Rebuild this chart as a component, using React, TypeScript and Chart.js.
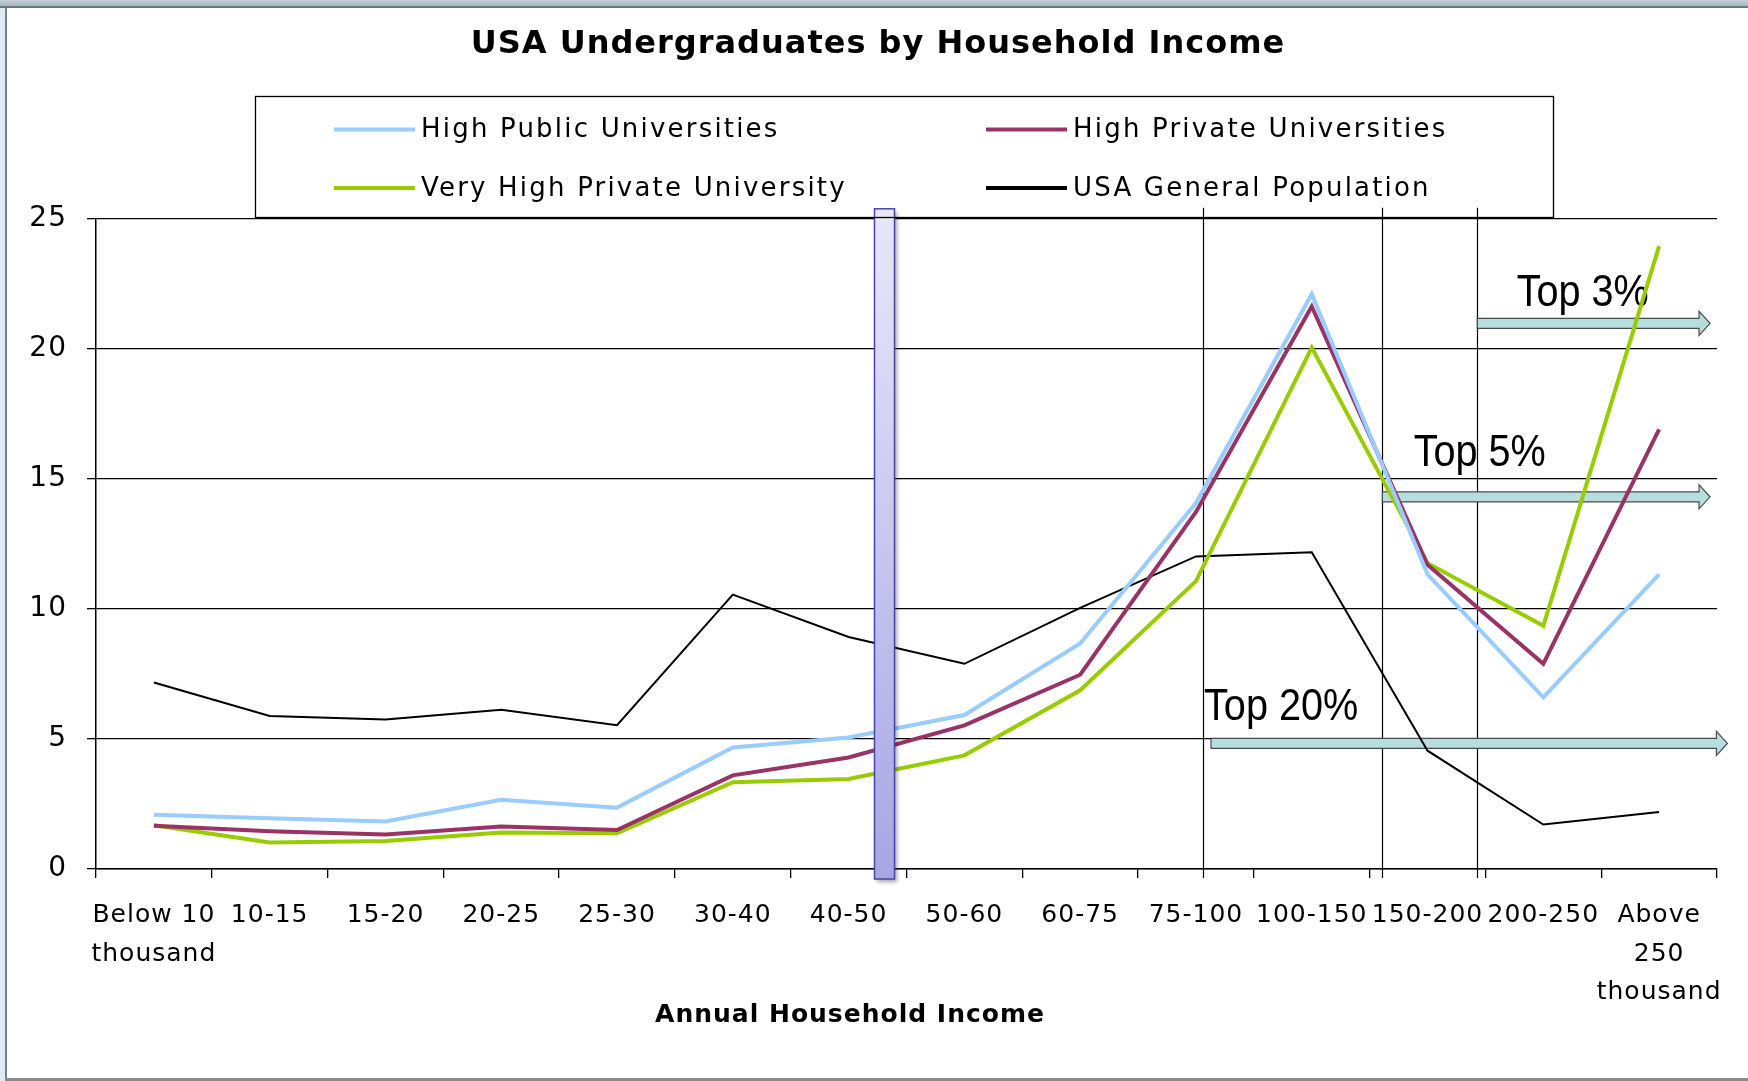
import React, { useEffect, useRef } from "react";
import { Chart, registerables } from "chart.js";

Chart.register(...registerables);

// ---- data ----
const categories: (string | string[])[] = [
  ["Below 10", "thousand"],
  "10-15",
  "15-20",
  "20-25",
  "25-30",
  "30-40",
  "40-50",
  "50-60",
  "60-75",
  "75-100",
  "100-150",
  "150-200",
  "200-250",
  ["Above", "250", "thousand"],
];
const seriesNames = [
  "High Public Universities",
  "High Private Universities",
  "Very High Private University",
  "USA General Population",
];
const highPublic = [2.09, 1.95, 1.83, 2.66, 2.36, 4.67, 5.06, 5.92, 8.67, 14.07, 22.1, 11.33, 6.6, 11.33];
const highPrivate = [1.66, 1.45, 1.33, 1.63, 1.5, 3.6, 4.29, 5.52, 7.47, 13.73, 21.63, 11.7, 7.89, 16.9];
const veryHighPrivate = [1.68, 1.02, 1.08, 1.4, 1.37, 3.34, 3.46, 4.37, 6.87, 11.07, 20.05, 11.76, 9.35, 23.95];
const generalPopulation = [7.17, 5.88, 5.75, 6.12, 5.53, 10.55, 8.92, 7.89, 10.04, 12.02, 12.18, 4.55, 1.71, 2.19];
const yTicks = [0, 5, 10, 15, 20, 25];

const titleText = "USA Undergraduates by Household Income";
const xAxisTitle = "Annual Household Income";

// annotations (in category-index / value units)
const dividerIndexes = [9.06, 10.61, 11.43];
const markerIndex = 6.31;
const topLabels = ["Top 20%", "Top 5%", "Top 3%"];
const arrowStart = [9.13, 10.61, 11.43];
const arrowEnd = [13.59, 13.44, 13.44];
const arrowLevel = [4.83, 14.31, 20.98];
const labelIndex = [9.07, 10.88, 11.77];
const labelLevel = [5.71, 15.48, 21.63];

const seriesColors = ["#99ccff", "#993366", "#99cc00", "#000000"];
const seriesWidths = [4, 4, 4, 2];

function drawArrow(ctx: CanvasRenderingContext2D, x0: number, x1: number, y: number) {
  const shaft = 10;
  const head = 24;
  const headL = 11;
  ctx.beginPath();
  ctx.moveTo(x0, y - shaft / 2);
  ctx.lineTo(x1 - headL, y - shaft / 2);
  ctx.lineTo(x1 - headL, y - head / 2);
  ctx.lineTo(x1, y);
  ctx.lineTo(x1 - headL, y + head / 2);
  ctx.lineTo(x1 - headL, y + shaft / 2);
  ctx.lineTo(x0, y + shaft / 2);
  ctx.closePath();
  ctx.fillStyle = "#b6dedf";
  ctx.fill();
  ctx.strokeStyle = "#4a4a4a";
  ctx.lineWidth = 1.2;
  ctx.stroke();
}

const overlayPlugin = {
  id: "overlay",
  afterLayout(chart: any) {
    // let the y tick labels use the space to the left of the axis box
    chart.scales.y.left = 8;
  },
  beforeDraw(chart: any) {
    (chart.ctx as any).letterSpacing = "1px";
  },
  beforeDatasetsDraw(chart: any) {
    const ctx: CanvasRenderingContext2D = chart.ctx;
    const xs = chart.scales.x;
    const ys = chart.scales.y;
    const area = chart.chartArea;
    ctx.save();
    (ctx as any).letterSpacing = "0px";
    // divider lines
    ctx.strokeStyle = "#000";
    ctx.lineWidth = 1.2;
    dividerIndexes.forEach((v) => {
      const x = Math.round(xs.getPixelForValue(v)) + 0.5;
      ctx.beginPath();
      ctx.moveTo(x, area.top - 11);
      ctx.lineTo(x, area.bottom + 9);
      ctx.stroke();
    });
    // arrows
    topLabels.forEach((_, i) => {
      drawArrow(ctx, xs.getPixelForValue(arrowStart[i]), xs.getPixelForValue(arrowEnd[i]), ys.getPixelForValue(arrowLevel[i]));
    });
    // labels
    ctx.fillStyle = "#000";
    ctx.font = '44px "Liberation Sans", Arial, sans-serif';
    ctx.textBaseline = "alphabetic";
    ctx.textAlign = "left";
    topLabels.forEach((t, i) => {
      ctx.save();
      ctx.translate(xs.getPixelForValue(labelIndex[i]), ys.getPixelForValue(labelLevel[i]));
      ctx.scale(0.9, 1);
      ctx.fillText(t, 0, 0);
      ctx.restore();
    });
    ctx.restore();
  },
  afterDatasetsDraw(chart: any) {
    const ctx: CanvasRenderingContext2D = chart.ctx;
    const xs = chart.scales.x;
    const area = chart.chartArea;
    const cx = xs.getPixelForValue(markerIndex);
    const w = 20;
    const top = area.top - 10;
    const bottom = area.bottom + 10;
    ctx.save();
    ctx.shadowColor = "rgba(0,0,0,0.35)";
    ctx.shadowBlur = 4;
    ctx.shadowOffsetX = 2;
    ctx.shadowOffsetY = 3;
    const g = ctx.createLinearGradient(0, top, 0, bottom);
    g.addColorStop(0, "#e8e8fa");
    g.addColorStop(1, "#a6a6e6");
    ctx.fillStyle = g;
    ctx.fillRect(cx - w / 2, top, w, bottom - top);
    ctx.shadowColor = "transparent";
    ctx.strokeStyle = "#4646a8";
    ctx.lineWidth = 1.5;
    ctx.strokeRect(cx - w / 2, top, w, bottom - top);
    ctx.restore();
  },
  afterDraw(chart: any) {
    const ctx: CanvasRenderingContext2D = chart.ctx;
    ctx.save();
    // legend box
    ctx.strokeStyle = "#000";
    ctx.lineWidth = 1.3;
    ctx.strokeRect(255.5, 96.5, 1298, 121);
    const cols = [334, 986];
    const rows = [129.5, 188];
    ctx.font = '26px "DejaVu Sans", sans-serif';
    (ctx as any).letterSpacing = "2.2px";
    ctx.textBaseline = "middle";
    ctx.textAlign = "left";
    chart.data.datasets.forEach((ds: any, i: number) => {
      const x = cols[i % 2];
      const y = rows[Math.floor(i / 2)];
      ctx.strokeStyle = ds.borderColor;
      ctx.lineWidth = 4;
      ctx.beginPath();
      ctx.moveTo(x, y);
      ctx.lineTo(x + 81, y);
      ctx.stroke();
      ctx.fillStyle = "#000";
      ctx.fillText(ds.label, x + 87, y + 1);
    });
    // x axis title
    ctx.font = 'bold 25px "DejaVu Sans", sans-serif';
    (ctx as any).letterSpacing = "1px";
    ctx.textAlign = "center";
    ctx.fillText(xAxisTitle, 850, 1015);
    ctx.restore();
  },
};

export default function App() {
  const canvasRef = useRef<HTMLCanvasElement | null>(null);

  useEffect(() => {
    document.body.style.margin = "0";
    const canvas = canvasRef.current;
    if (!canvas) return;
    const values = [highPublic, highPrivate, veryHighPrivate, generalPopulation];
    const chart = new Chart(canvas, {
      type: "line",
      data: {
        labels: categories as any,
        datasets: seriesNames.map((name, i) => ({
          label: name,
          data: values[i],
          borderColor: seriesColors[i],
          backgroundColor: seriesColors[i],
          borderWidth: seriesWidths[i],
          pointRadius: 0,
          tension: 0,
          fill: false,
        })),
      },
      options: {
        responsive: false,
        animation: false,
        devicePixelRatio: 1,
        layout: { padding: { left: 39, right: 31, top: 0, bottom: 0 } },
        plugins: {
          legend: { display: false },
          tooltip: { enabled: false },
          title: {
            display: true,
            text: titleText,
            color: "#000",
            font: { family: '"DejaVu Sans", sans-serif', size: 32, weight: "bold", lineHeight: 1.2 },
            padding: { top: 25.8, bottom: 154.6 },
          },
        },
        scales: {
          x: {
            type: "category",
            offset: true,
            grid: { offset: true, drawOnChartArea: false, color: "#000", lineWidth: 1.3, tickLength: 9 },
            border: { display: true, color: "#000", width: 1.5 },
            ticks: {
              autoSkip: false,
              maxRotation: 0,
              minRotation: 0,
              padding: 18,
              color: "#000",
              font: { family: '"DejaVu Sans", sans-serif', size: 25, lineHeight: 1.55 },
            },
            afterFit: (scale: any) => {
              scale.height = 212;
            },
          },
          y: {
            min: yTicks[0],
            max: yTicks[yTicks.length - 1],
            grid: { color: "#000", lineWidth: 1.3, tickLength: 9 },
            border: { display: true, color: "#000", width: 1.5 },
            ticks: {
              stepSize: yTicks[1] - yTicks[0],
              padding: 20,
              color: "#000",
              font: { family: '"DejaVu Sans", sans-serif', size: 28 },
            },
            afterFit: (scale: any) => {
              scale.width = 57;
            },
          },
        },
      },
      plugins: [overlayPlugin],
    });
    return () => chart.destroy();
  }, []);

  return (
    <div style={{ position: "relative", width: 1748, height: 1081, background: "#fff", overflow: "hidden" }}>
      <canvas ref={canvasRef} width={1748} height={1081} style={{ position: "absolute", left: 0, top: 0 }} />
      <div style={{ position: "absolute", left: 0, top: 0, width: 1748, height: 6, background: "linear-gradient(#c3cfd5, #a8b8c0)" }} />
      <div style={{ position: "absolute", left: 0, top: 6, width: 1748, height: 2, background: "#6f7579" }} />
      <div style={{ position: "absolute", left: 0, top: 8, width: 5, height: 1073, background: "#dbecf4" }} />
      <div style={{ position: "absolute", left: 5, top: 8, width: 2, height: 1070, background: "#7c8084" }} />
      <div style={{ position: "absolute", left: 5, top: 1078, width: 1743, height: 3, background: "#8a8a8a" }} />
    </div>
  );
}
